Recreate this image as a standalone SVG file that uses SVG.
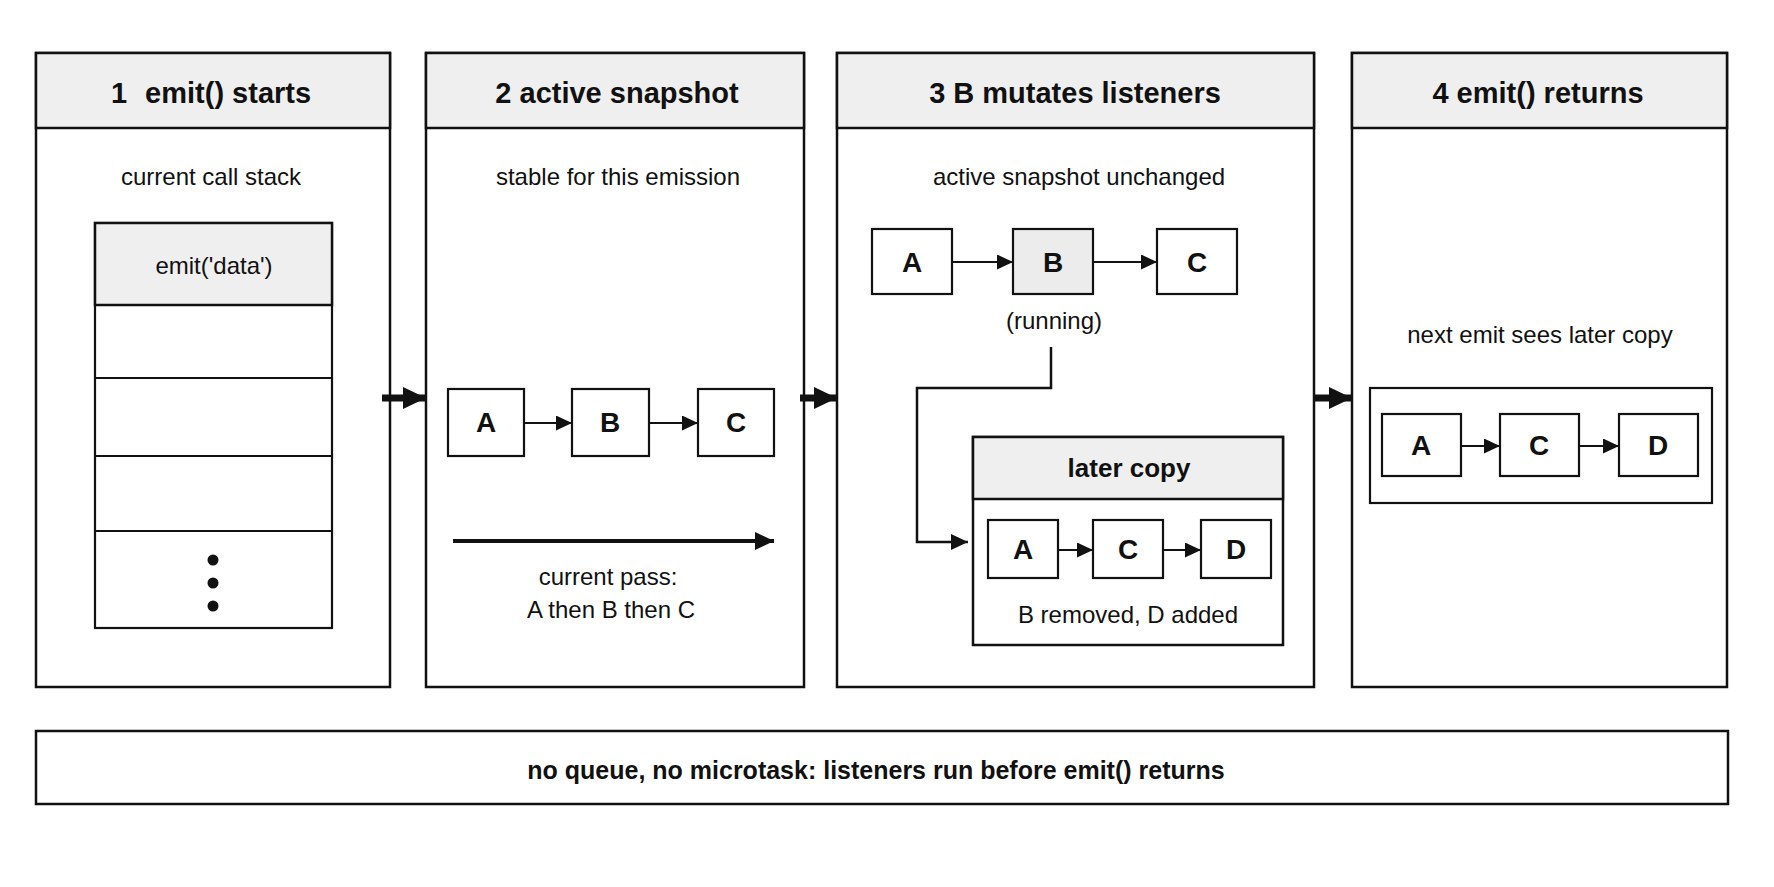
<svg xmlns="http://www.w3.org/2000/svg" width="1774" height="887" viewBox="0 0 1774 887">
<style>
  .frame{fill:#fff;stroke:#111;stroke-width:2.5}
  .hdr{fill:#efefef;stroke:#111;stroke-width:2.5}
  .box{fill:#fff;stroke:#111;stroke-width:2.2}
  .boxg{fill:#ececec;stroke:#111;stroke-width:2.2}
  .title{font-family:"Liberation Sans",Arial,sans-serif;font-weight:bold;font-size:29px;fill:#111;text-anchor:middle}
  .sub{font-family:"Liberation Sans",Arial,sans-serif;font-size:24px;fill:#111;text-anchor:middle}
  .lbl{font-family:"Liberation Sans",Arial,sans-serif;font-weight:bold;font-size:28px;fill:#111;text-anchor:middle}
  .foot{font-family:"Liberation Sans",Arial,sans-serif;font-weight:bold;font-size:25px;fill:#111;text-anchor:middle}
  .thin{fill:none;stroke:#111;stroke-width:2;marker-end:url(#ah)}
  .elbow{fill:none;stroke:#111;stroke-width:2.5;marker-end:url(#ahm)}
  .pass{fill:none;stroke:#111;stroke-width:4;marker-end:url(#ahp)}
  .step{fill:none;stroke:#111;stroke-width:7;marker-end:url(#ahb)}
</style>
<defs>
  <marker id="ah" markerUnits="userSpaceOnUse" markerWidth="16" markerHeight="15" refX="16" refY="7.5" orient="auto"><path d="M0,0 L16,7.5 L0,15 z" fill="#111"/></marker>
  <marker id="ahm" markerUnits="userSpaceOnUse" markerWidth="17" markerHeight="16" refX="17" refY="8" orient="auto"><path d="M0,0 L17,8 L0,16 z" fill="#111"/></marker>
  <marker id="ahp" markerUnits="userSpaceOnUse" markerWidth="19" markerHeight="18" refX="19" refY="9" orient="auto"><path d="M0,0 L19,9 L0,18 z" fill="#111"/></marker>
  <marker id="ahb" markerUnits="userSpaceOnUse" markerWidth="23" markerHeight="22" refX="23" refY="11" orient="auto"><path d="M0,0 L23,11 L0,22 z" fill="#111"/></marker>
</defs>
<rect width="1774" height="887" fill="#fff"/>

<g id="panel1">
  <rect class="frame" x="36" y="53" width="354" height="634"/>
  <rect class="hdr" x="36" y="53" width="354" height="75"/>
  <text class="title" x="211" y="103">1<tspan dx="10"> emit() starts</tspan></text>
  <text class="sub" x="211" y="185">current call stack</text>
  <g id="stack">
    <rect class="box" x="95" y="223" width="237" height="405"/>
    <rect class="hdr" x="95" y="223" width="237" height="82"/>
    <line x1="95" y1="378" x2="332" y2="378" stroke="#111" stroke-width="2.2"/>
    <line x1="95" y1="456" x2="332" y2="456" stroke="#111" stroke-width="2.2"/>
    <line x1="95" y1="531" x2="332" y2="531" stroke="#111" stroke-width="2.2"/>
    <text class="sub" x="214" y="274">emit('data')</text>
    <circle cx="213" cy="560" r="5.5" fill="#111"/>
    <circle cx="213" cy="583" r="5.5" fill="#111"/>
    <circle cx="213" cy="606" r="5.5" fill="#111"/>
  </g>
</g>

<g id="panel2">
  <rect class="frame" x="426" y="53" width="378" height="634"/>
  <rect class="hdr" x="426" y="53" width="378" height="75"/>
  <text class="title" x="617" y="103">2 active snapshot</text>
  <text class="sub" x="618" y="185">stable for this emission</text>
  <g id="p2A"><rect class="box" x="448" y="389" width="76" height="67"/><text class="lbl" x="486" y="432">A</text></g>
  <g id="p2B"><rect class="box" x="572" y="389" width="77" height="67"/><text class="lbl" x="610" y="432">B</text></g>
  <g id="p2C"><rect class="box" x="698" y="389" width="76" height="67"/><text class="lbl" x="736" y="432">C</text></g>
  <text class="sub" x="608" y="585">current pass:</text>
  <text class="sub" x="611" y="618">A then B then C</text>
</g>

<g id="panel3">
  <rect class="frame" x="837" y="53" width="477" height="634"/>
  <rect class="hdr" x="837" y="53" width="477" height="75"/>
  <text class="title" x="1075" y="103">3 B mutates listeners</text>
  <text class="sub" x="1079" y="185">active snapshot unchanged</text>
  <g id="p3A"><rect class="box" x="872" y="229" width="80" height="65"/><text class="lbl" x="912" y="272">A</text></g>
  <g id="p3B"><rect class="boxg" x="1013" y="229" width="80" height="65"/><text class="lbl" x="1053" y="272">B</text></g>
  <g id="p3C"><rect class="box" x="1157" y="229" width="80" height="65"/><text class="lbl" x="1197" y="272">C</text></g>
  <text class="sub" x="1054" y="329">(running)</text>
  <g id="laterCopy">
    <rect class="frame" x="973" y="437" width="310" height="208" stroke-width="2.2"/>
    <rect class="hdr" x="973" y="437" width="310" height="62" stroke-width="2.2"/>
    <text class="title" x="1129" y="477" style="font-size:26px">later copy</text>
    <g id="lcA"><rect class="box" x="988" y="520" width="70" height="58"/><text class="lbl" x="1023" y="559">A</text></g>
    <g id="lcC"><rect class="box" x="1093" y="520" width="70" height="58"/><text class="lbl" x="1128" y="559">C</text></g>
    <g id="lcD"><rect class="box" x="1201" y="520" width="70" height="58"/><text class="lbl" x="1236" y="559">D</text></g>
    <text class="sub" x="1128" y="623">B removed, D added</text>
  </g>
</g>

<g id="panel4">
  <rect class="frame" x="1352" y="53" width="375" height="634"/>
  <rect class="hdr" x="1352" y="53" width="375" height="75"/>
  <text class="title" x="1538" y="103">4 emit() returns</text>
  <text class="sub" x="1540" y="343">next emit sees later copy</text>
  <rect class="box" x="1370" y="388" width="342" height="115"/>
  <g id="p4A"><rect class="box" x="1382" y="414" width="79" height="62"/><text class="lbl" x="1421" y="455">A</text></g>
  <g id="p4C"><rect class="box" x="1500" y="414" width="79" height="62"/><text class="lbl" x="1539" y="455">C</text></g>
  <g id="p4D"><rect class="box" x="1619" y="414" width="79" height="62"/><text class="lbl" x="1658" y="455">D</text></g>
</g>

<g id="footer">
  <rect class="frame" x="36" y="731" width="1692" height="73"/>
  <text class="foot" x="876" y="779">no queue, no microtask: listeners run before emit() returns</text>
</g>

<g id="connectors">
  <line class="step" x1="382" y1="398" x2="426" y2="398"/>
  <line class="step" x1="800" y1="398" x2="837" y2="398"/>
  <line class="step" x1="1313" y1="398" x2="1352" y2="398"/>
  <line class="thin" x1="524" y1="423" x2="572" y2="423"/>
  <line class="thin" x1="649" y1="423" x2="698" y2="423"/>
  <line class="pass" x1="453" y1="541" x2="774" y2="541"/>
  <line class="thin" x1="952" y1="262" x2="1013" y2="262"/>
  <line class="thin" x1="1093" y1="262" x2="1157" y2="262"/>
  <path class="elbow" d="M1051,347 V388 H917 V542 H968"/>
  <line class="thin" x1="1058" y1="550" x2="1093" y2="550"/>
  <line class="thin" x1="1163" y1="550" x2="1201" y2="550"/>
  <line class="thin" x1="1461" y1="446" x2="1500" y2="446"/>
  <line class="thin" x1="1579" y1="446" x2="1619" y2="446"/>
</g>
</svg>
